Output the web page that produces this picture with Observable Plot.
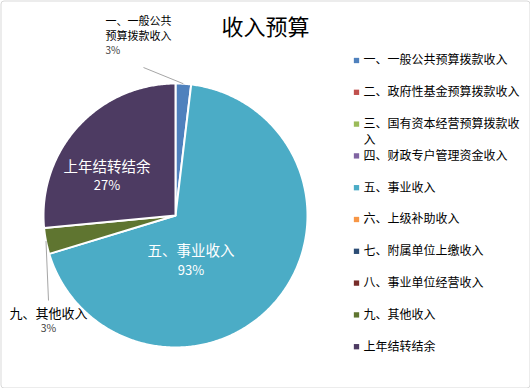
<!DOCTYPE html>
<html><head><meta charset="utf-8">
<script src="https://cdn.jsdelivr.net/npm/d3@7"></script>
<script src="https://cdn.jsdelivr.net/npm/@observablehq/plot@0.6"></script>
<style>body{margin:0;background:#fff} svg{display:block}</style>
</head><body><div id="chart"></div>
<script>
// ---- data ----
const title = "收入预算";
const categories = ["一、一般公共预算拨款收入","二、政府性基金预算拨款收入","三、国有资本经营预算拨款收入","四、财政专户管理资金收入","五、事业收入","六、上级补助收入","七、附属单位上缴收入","八、事业单位经营收入","九、其他收入","上年结转结余"];
const values = [1.9, 0, 0, 0, 68.4, 0, 0, 0, 3.2, 26.5];
const sliceLabels = ["一、一般公共\n预算拨款收入", "", "", "", "五、事业收入", "", "", "", "九、其他收入", "上年结转结余"];
const percentLabels = ["3%", "", "", "", "93%", "", "", "", "3%", "27%"];
const colors = ["#4F81BD","#C0504D","#9BBB59","#8064A2","#4BACC6","#F79646","#2C4D75","#772C2A","#5F7530","#4D3B62"];

// ---- layout ----
const W = 530, H = 388, cx = 175, cy = 215, R = 132;
const font = "'Noto Sans CJK SC','Noto Sans',sans-serif";

const arcs = d3.pie().sort(null).value(d => d.value)(categories.map((name, i) => ({name, value: values[i], i})));
const pts = [];
for (const a of arcs) {
  if (a.endAngle - a.startAngle <= 0) continue;
  pts.push({name: a.data.name, x: cx, y: cy});
  const n = Math.max(2, Math.ceil((a.endAngle - a.startAngle) / 0.01));
  for (let k = 0; k <= n; k++) {
    const t = a.startAngle + (a.endAngle - a.startAngle) * k / n;
    pts.push({name: a.data.name, x: cx + R * Math.sin(t), y: cy - R * Math.cos(t)});
  }
}
const mid = i => { const a = arcs[i]; return (a.startAngle + a.endAngle) / 2; };
const onArc = (i, r) => ({x: cx + r * Math.sin(mid(i)), y: cy - r * Math.cos(mid(i))});

// inside labels (placed by angle/radius from the centre)
const inside = [
  {i: 9, ang: -60 * Math.PI / 180, r: 0.6},
  {i: 4, ang: 161 * Math.PI / 180, r: 0.36}
].map(d => ({...d, x: cx + R * d.r * Math.sin(d.ang), y: cy - R * d.r * Math.cos(d.ang)}));
const insideName = inside.map(d => ({text: sliceLabels[d.i], x: d.x, y: d.y - 9}));
const insidePct = inside.map(d => ({text: percentLabels[d.i], x: d.x, y: d.y + 10}));

// outside labels with leader lines
const outside = [
  {i: 0, ex: 143, ey: 67},
  {i: 8, ex: 48, ey: 300}
].map(d => { const p = onArc(d.i, R); return {...d, sx: p.x, sy: p.y}; });
const outNameTop = sliceLabels[0].split("\n").map((t, j) => ({text: t, x: 105, y: 20.5 + j * 15.5}));
const outPctTop = [{text: percentLabels[0], x: 105, y: 50}];
const outNameBot = [{text: sliceLabels[8], x: 48, y: 313}];
const outPctBot = [{text: percentLabels[8], x: 48, y: 328.5}];

// legend
const legRows = categories.map((name, i) => ({name, y: 60 + i * 31.8}));
const legLines = [];
legRows.forEach(r => {
  const chunks = [];
  for (let s = 0; s < r.name.length; s += 13) chunks.push(r.name.slice(s, s + 13));
  chunks.forEach((c, j) => legLines.push({text: c, y: r.y + j * 15.8}));
});

const chart = Plot.plot({
  width: W, height: H, margin: 0,
  x: {domain: [0, W], range: [0, W], axis: null},
  y: {domain: [0, H], range: [0, H], axis: null},
  color: {domain: categories, range: colors},
  style: {fontFamily: font, background: "#fff"},
  marks: [
    Plot.frame({stroke: "#d9d9d9", inset: 0.5, rx: 3}),
    Plot.line(pts, {x: "x", y: "y", z: "name", fill: "name", stroke: "white", strokeWidth: 2, curve: "linear-closed"}),
    Plot.link(outside, {x1: "sx", y1: "sy", x2: "ex", y2: "ey", stroke: "#a6a6a6", strokeWidth: 1}),
    Plot.text([title], {x: () => 265, y: () => 27, text: d => d, fontSize: 22, fill: "#000"}),
    Plot.text(insideName, {x: "x", y: "y", text: "text", fill: "white", fontSize: 14.5}),
    Plot.text(insidePct, {x: "x", y: "y", text: "text", fill: "white", fontSize: 13}),
    Plot.text(outNameTop, {x: "x", y: "y", text: "text", fill: "#000", fontSize: 11, textAnchor: "start"}),
    Plot.text(outPctTop, {x: "x", y: "y", text: "text", fill: "#404040", fontSize: 10, textAnchor: "start"}),
    Plot.text(outNameBot, {x: "x", y: "y", text: "text", fill: "#000", fontSize: 13}),
    Plot.text(outPctBot, {x: "x", y: "y", text: "text", fill: "#404040", fontSize: 10.5}),
    Plot.dot(legRows, {x: () => 356, y: "y", symbol: "square", r: 3, fill: "name", stroke: null}),
    Plot.text(legLines, {x: () => 363, y: "y", text: "text", textAnchor: "start", fontSize: 12, fill: "#000"})
  ]
});
document.getElementById("chart").appendChild(chart);
</script></body></html>
